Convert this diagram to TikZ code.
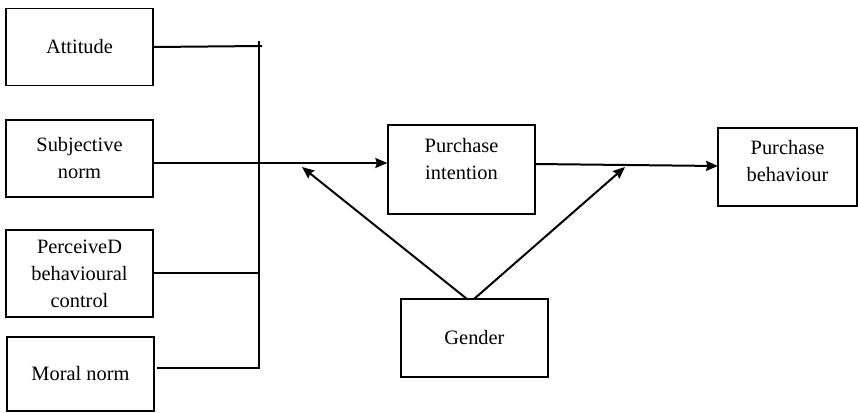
\documentclass[tikz,border=0pt]{standalone}
\usepackage{fontspec}
\setmainfont{Liberation Serif}
\newfontfamily\timesfont{Liberation Serif}
\usetikzlibrary{arrows.meta}
\begin{document}
\begin{tikzpicture}[x=1pt,y=-1pt,
  box/.style={draw, line width=1.3pt, inner sep=0pt, minimum width=147pt, align=center,
    font=\timesfont\fontsize{20.4}{27}\selectfont},
  txt/.style={align=center, inner sep=0pt, font=\timesfont\fontsize{20.4}{27}\selectfont},
  conn/.style={line width=2pt},
  arr/.style={line width=2pt, -{Stealth[length=12pt,width=10pt,inset=1.5pt]}}]
\useasboundingbox (0,0) rectangle (858,412);
% boxes
\node[box, minimum height=77pt] (att) at (79.5,47) {Attitude};
\node[box, minimum height=77pt] (sn) at (79.5,158.5) {Subjective\\norm};
\node[box, minimum height=87pt] (pbc) at (79.5,273.5) {PerceiveD\\behavioural\\control};
\node[box, minimum height=74pt] (mn) at (80.5,374) {Moral norm};
\node[box, minimum height=89pt,
  label={[txt, yshift=10.5pt]center:Purchase\\intention}] (pi) at (461.5,169.5) {};
\node[box, minimum width=139pt, minimum height=78pt,
  label={[txt, yshift=5.5pt]center:Purchase\\behaviour}] (pb) at (787.5,167) {};
\node[box, minimum height=78pt] (gen) at (474.5,338) {Gender};
% coordinates
\coordinate (busT) at (259,41);
\coordinate (busB) at (259,369);
\coordinate (attend) at (262,46);
\coordinate (pbcend) at (259,273);
\coordinate (mnend) at (260,368);
\coordinate (mnstart) at (157,368);
\coordinate (piout) at (535,164);
\coordinate (pbin) at (718,166);
\coordinate (gL) at (467,299);
\coordinate (gR) at (474,299);
\coordinate (tL) at (302,167);
\coordinate (tR) at (625,167);
% connectors
\draw[conn] (busT) -- (busB);
\draw[conn] (att.east) -- (attend);
\draw[conn] (pbc.east |- pbcend) -- (pbcend);
\draw[conn] (mnstart) -- (mnend);
\draw[arr] (sn.east |- 0,163) -- (pi.west |- 0,163);
\draw[arr] (piout) -- (pbin);
\draw[arr] (gL) -- (tL);
\draw[arr] (gR) -- (tR);
\end{tikzpicture}
\end{document}
